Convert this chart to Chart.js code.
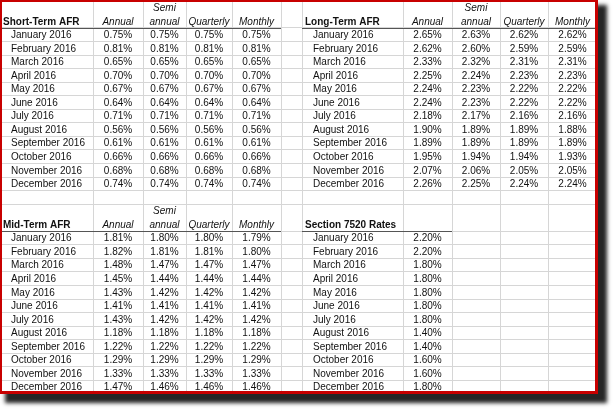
<!DOCTYPE html>
<html>
<head>
<meta charset="utf-8">
<script src="https://cdn.jsdelivr.net/npm/chart.js@4.4.1/dist/chart.umd.min.js"></script>
<style>
  body { margin: 0; background: #fff; }
  #frame {
    position: absolute; left: 0; top: 0; width: 598px; height: 394px;
    background: #fff; box-shadow: 7px 7px 4px 2px #262626;
  }
  #border {
    position: absolute; left: 0; top: 0; right: 0; bottom: 0;
    border-style: solid; border-color: #c80000;
    border-width: 2px 3px 3px 2px; pointer-events: none;
  }
</style>
</head>
<body>
<div id="frame">
  <canvas id="afrChart"></canvas>
  <div id="border"></div>
</div>
<script>
// months and column headings
var months = ['January 2016', 'February 2016', 'March 2016', 'April 2016', 'May 2016', 'June 2016',
    'July 2016', 'August 2016', 'September 2016', 'October 2016', 'November 2016', 'December 2016'];
var colHeads = [['Annual'], ['Semi', 'annual'], ['Quarterly'], ['Monthly']];

// rates in percent
var shortAnnual    = [0.75, 0.81, 0.65, 0.70, 0.67, 0.64, 0.71, 0.56, 0.61, 0.66, 0.68, 0.74];
var shortSemi      = [0.75, 0.81, 0.65, 0.70, 0.67, 0.64, 0.71, 0.56, 0.61, 0.66, 0.68, 0.74];
var shortQuarterly = [0.75, 0.81, 0.65, 0.70, 0.67, 0.64, 0.71, 0.56, 0.61, 0.66, 0.68, 0.74];
var shortMonthly   = [0.75, 0.81, 0.65, 0.70, 0.67, 0.64, 0.71, 0.56, 0.61, 0.66, 0.68, 0.74];

var longAnnual    = [2.65, 2.62, 2.33, 2.25, 2.24, 2.24, 2.18, 1.90, 1.89, 1.95, 2.07, 2.26];
var longSemi      = [2.63, 2.60, 2.32, 2.24, 2.23, 2.23, 2.17, 1.89, 1.89, 1.94, 2.06, 2.25];
var longQuarterly = [2.62, 2.59, 2.31, 2.23, 2.22, 2.22, 2.16, 1.89, 1.89, 1.94, 2.05, 2.24];
var longMonthly   = [2.62, 2.59, 2.31, 2.23, 2.22, 2.22, 2.16, 1.88, 1.89, 1.93, 2.05, 2.24];

var midAnnual    = [1.81, 1.82, 1.48, 1.45, 1.43, 1.41, 1.43, 1.18, 1.22, 1.29, 1.33, 1.47];
var midSemi      = [1.80, 1.81, 1.47, 1.44, 1.42, 1.41, 1.42, 1.18, 1.22, 1.29, 1.33, 1.46];
var midQuarterly = [1.80, 1.81, 1.47, 1.44, 1.42, 1.41, 1.42, 1.18, 1.22, 1.29, 1.33, 1.46];
var midMonthly   = [1.79, 1.80, 1.47, 1.44, 1.42, 1.41, 1.42, 1.18, 1.22, 1.29, 1.33, 1.46];

var rate7520 = [2.20, 2.20, 1.80, 1.80, 1.80, 1.80, 1.80, 1.40, 1.40, 1.60, 1.60, 1.80];

// sheet layout: column edges in px, rows in row units
var leftCols = [0, 93, 143, 186, 232, 281];
var rightCols = [302, 403, 452, 500, 548, 597];
var colLines = [93, 143, 186, 232, 281, 302, 403, 452, 500, 548];
var rowLines = [0, 2, 3, 4, 5, 6, 7, 8, 9, 10, 11, 12, 13, 14, 15, 17, 18, 19, 20, 21, 22, 23, 24, 25, 26, 27, 28, 29];

var tables = [
    { title: 'Short-Term AFR', cols: leftCols, head: 0, series: [shortAnnual, shortSemi, shortQuarterly, shortMonthly], heads: true },
    { title: 'Long-Term AFR', cols: rightCols, head: 0, series: [longAnnual, longSemi, longQuarterly, longMonthly], heads: true },
    { title: 'Mid-Term AFR', cols: leftCols, head: 15, series: [midAnnual, midSemi, midQuarterly, midMonthly], heads: true },
    { title: 'Section 7520 Rates', cols: rightCols, head: 15, series: [rate7520], heads: false }
];

var FONT = '"Liberation Sans", Arial, sans-serif';
var TEXT = '#111';

var datasets = [];
tables.forEach(function(t) {
    datasets.push({
        kind: 'label',
        data: months.map(function(m, i) { return { x: t.cols[0], y: t.head + 2.5 + i, text: m }; })
    });
    t.series.forEach(function(s, c) {
        var cx = (t.cols[c + 1] + t.cols[c + 2]) / 2;
        datasets.push({
            kind: 'value',
            data: s.map(function(v, i) { return { x: cx, y: t.head + 2.5 + i, text: v.toFixed(2) + '%' }; })
        });
    });
});
datasets.forEach(function(d) { d.pointRadius = 0; d.pointHoverRadius = 0; });

var sheetText = {
    id: 'sheetText',
    afterDatasetsDraw: function(chart) {
        var ctx = chart.ctx, xs = chart.scales.x, ys = chart.scales.y;
        ctx.save();
        ctx.fillStyle = TEXT;
        ctx.textBaseline = 'middle';

        // header rows
        tables.forEach(function(t) {
            ctx.font = 'bold 10px ' + FONT;
            ctx.textAlign = 'left';
            ctx.fillText(t.title, xs.getPixelForValue(t.cols[0]) + 3, ys.getPixelForValue(t.head + 1.55));
            if (t.heads) {
                ctx.font = 'italic 10px ' + FONT;
                ctx.textAlign = 'center';
                colHeads.forEach(function(h, c) {
                    var cx = xs.getPixelForValue((t.cols[c + 1] + t.cols[c + 2]) / 2);
                    h.forEach(function(line, k) {
                        ctx.fillText(line, cx, ys.getPixelForValue(t.head + 1.55 - (h.length - 1 - k)));
                    });
                });
            }
            var endCol = t.cols[t.series.length + 1];
            var yl = Math.round(ys.getPixelForValue(t.head + 2)) + 0.5;
            ctx.strokeStyle = '#555';
            ctx.lineWidth = 1;
            ctx.beginPath();
            ctx.moveTo(xs.getPixelForValue(t.cols[0]), yl);
            ctx.lineTo(xs.getPixelForValue(endCol), yl);
            ctx.stroke();
        });

        // cells
        ctx.font = '10px ' + FONT;
        chart.data.datasets.forEach(function(d, di) {
            var meta = chart.getDatasetMeta(di);
            ctx.textAlign = d.kind === 'label' ? 'left' : 'center';
            meta.data.forEach(function(el, i) {
                var dx = d.kind === 'label' ? 11 : 0;
                ctx.fillText(d.data[i].text, el.x + dx, el.y + 0.5);
            });
        });
        ctx.restore();
    }
};

var afrChart = new Chart(document.getElementById('afrChart'), {
    type: 'scatter',
    data: { datasets: datasets },
    options: {
        responsive: true,
        maintainAspectRatio: false,
        animation: false,
        events: [],
        layout: { padding: 0 },
        plugins: { legend: { display: false }, tooltip: { enabled: false } },
        scales: {
            x: {
                type: 'linear', min: 0, max: 598,
                afterBuildTicks: function(scale) { scale.ticks = colLines.map(function(v) { return { value: v }; }); },
                ticks: { display: false },
                grid: { color: '#d6d6d6', drawTicks: false },
                border: { display: false }
            },
            y: {
                type: 'linear', reverse: true, min: -0.06, max: 29.0,
                afterBuildTicks: function(scale) { scale.ticks = rowLines.map(function(v) { return { value: v }; }); },
                ticks: { display: false },
                grid: { color: '#d6d6d6', drawTicks: false },
                border: { display: false }
            }
        }
    },
    plugins: [sheetText]
});
</script>
</body>
</html>
